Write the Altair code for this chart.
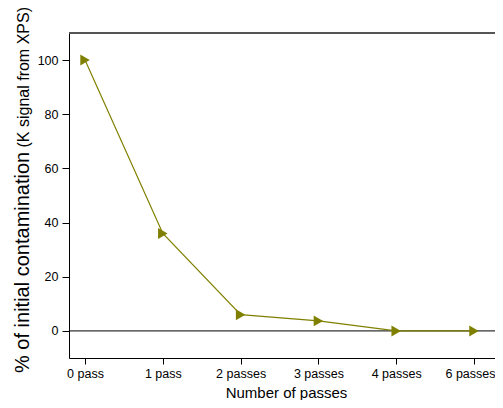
import altair as alt
import pandas as pd

categories = ["0 pass", "1 pass", "2 passes", "3 passes", "4 passes", "6 passes"]
contamination = [100, 36, 6, 3.7, 0, 0]
y_ticks = [0, 10, 20, 30, 40, 50, 60, 70, 80, 90, 100]
title_main = "% of initial contamination"
title_sub = "(K signal from XPS)"
x_title = "Number of passes"

FONT = "Liberation Sans"
OLIVE = "#808000"
W, H = 426, 325

df = pd.DataFrame({"idx": list(range(len(categories))), "pct": contamination})
label_expr = "[" + ",".join("'" + c + "'" for c in categories) + "][datum.value]"
last = len(categories) - 1

x_scale = alt.Scale(domain=[-0.206, 5.27], nice=False, zero=False)
y_scale = alt.Scale(domain=[-10, 110], nice=False, zero=False)

x_enc = alt.X(
    "idx:Q", scale=x_scale,
    axis=alt.Axis(
        values=list(range(len(categories))), labelExpr=label_expr, title=x_title,
        grid=False, tickSize=6, tickColor="black", domainColor="black",
        labelFont=FONT, labelFontSize=12.5, labelColor="black", labelPadding=3,
        labelOffset={"condition": {"test": f"datum.value == {last}", "value": -4}, "value": 0},
        titleFont=FONT, titleFontSize=15, titleFontWeight="normal", titleColor="black",
        titleBaseline="alphabetic", titleY=39, titleX=217, titleAnchor="middle",
        labelFlush=False, labelOverlap=False,
    ),
)
y_enc = alt.Y(
    "pct:Q", scale=y_scale,
    axis=alt.Axis(
        values=y_ticks, labelExpr="datum.value % 20 == 0 ? datum.label : ''", title=None,
        grid=False, tickColor="black", domainColor="black",
        tickSize={"condition": {"test": "datum.value % 20 == 0", "value": 7}, "value": 3},
        labelFont=FONT, labelFontSize=12.5, labelColor="black", labelPadding=4,
        labelOverlap=False, labelFlush=False,
    ),
)

line = alt.Chart(df).mark_line(color=OLIVE, strokeWidth=1.2).encode(x=x_enc, y=y_enc)
pts = alt.Chart(df).mark_point(shape="triangle-right", filled=True, color=OLIVE, size=120, opacity=1).encode(
    x="idx:Q", y="pct:Q"
)

zero_df = pd.DataFrame({"z": [0]})
zero_line = alt.Chart(zero_df).mark_rule(color="black", strokeWidth=1).encode(
    y=alt.Y("z:Q", scale=y_scale), x=alt.value(0), x2=alt.value(W)
)
top_line = alt.Chart(zero_df).mark_rule(color="#555555", strokeWidth=2).encode(
    y=alt.value(0), x=alt.value(0), x2=alt.value(W)
)

t_df = pd.DataFrame({"main": [title_main], "sub": [title_sub]})
t_main = alt.Chart(t_df).mark_text(
    angle=270, align="left", baseline="alphabetic", font=FONT, fontSize=20, color="black"
).encode(text="main:N", x=alt.value(-40.5), y=alt.value(340))
t_sub = alt.Chart(t_df).mark_text(
    angle=270, align="left", baseline="alphabetic", font=FONT, fontSize=16, color="black"
).encode(text="sub:N", x=alt.value(-40.5), y=alt.value(114.5))

chart = alt.layer(zero_line, top_line, line, pts, t_main, t_sub).properties(
    width=W, height=H,
    autosize=alt.AutoSizeParams(type="none"),
    padding={"left": 61, "top": 25, "right": 0, "bottom": 42},
).configure_view(stroke=None).configure(background="white")

chart.save("out.html", embed_options={"renderer": "svg", "actions": False})
